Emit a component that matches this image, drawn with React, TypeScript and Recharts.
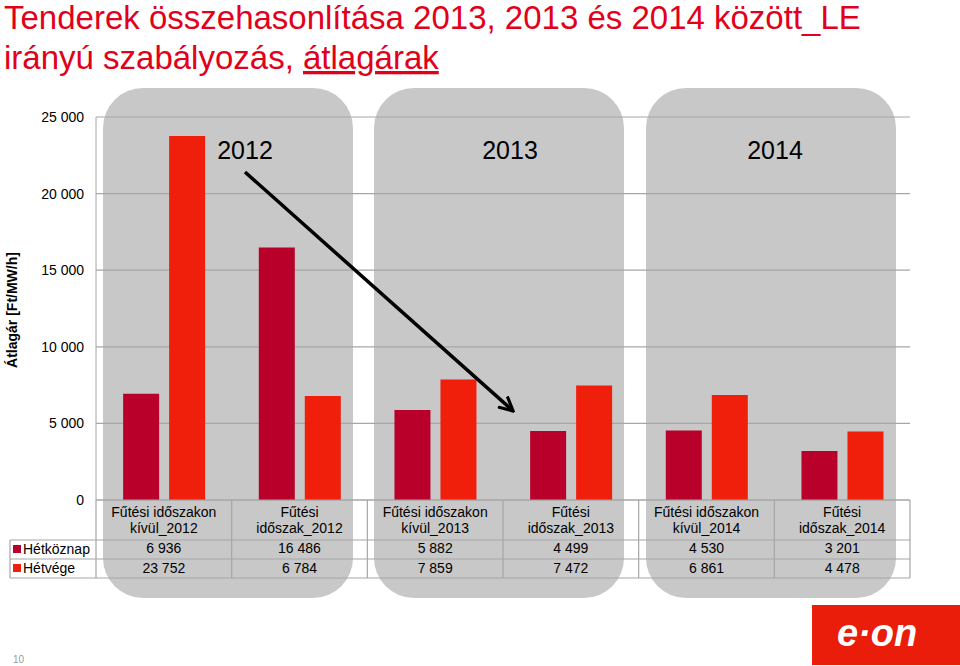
import { Bar, BarChart, CartesianGrid, XAxis, YAxis } from "recharts";

const categories = [
  "Fűtési időszakon kívül_2012",
  "Fűtési időszak_2012",
  "Fűtési időszakon kívül_2013",
  "Fűtési időszak_2013",
  "Fűtési időszakon kívül_2014",
  "Fűtési időszak_2014",
];
const weekday = [6936, 16486, 5882, 4499, 4530, 3201];
const weekend = [23752, 6784, 7859, 7472, 6861, 4478];
const seriesNames = ["Hétköznap", "Hétvége"];
const yTicks = [0, 5000, 10000, 15000, 20000, 25000];
const years = ["2012", "2013", "2014"];

const data = categories.map((name, i) => ({
  name,
  weekday: weekday[i],
  weekend: weekend[i],
}));

const FONT = '"Liberation Sans", Arial, sans-serif';
const DARK = "#b8002b";
const BRIGHT = "#ef1f0c";
const GRID = "#a6a6a6";

// plot box
const LEFT = 96;
const RIGHT = 910;
const TOP = 117;
const BOTTOM = 500;
const BAND = (RIGHT - LEFT) / categories.length;
const ROWS = [540, 559, 578];

const fmt = (v: number) => v.toLocaleString("en-US").replace(/,/g, " ");

function CategoryTick(props: any) {
  const { x, y, payload } = props;
  const label: string = payload.value;
  const cut = label.lastIndexOf(" ");
  const i = payload.index;
  const style = { fontFamily: FONT, fontSize: 14, fill: "#000" };
  return (
    <g>
      <text x={x} y={y + 17} textAnchor="middle" {...style}>
        {label.slice(0, cut)}
      </text>
      <text x={x} y={y + 33} textAnchor="middle" {...style}>
        {label.slice(cut + 1)}
      </text>
      <text x={x} y={y + 53} textAnchor="middle" {...style}>
        {fmt(weekday[i])}
      </text>
      <text x={x} y={y + 73} textAnchor="middle" {...style}>
        {fmt(weekend[i])}
      </text>
    </g>
  );
}

export default function App() {
  return (
    <div style={{ position: "absolute", left: 0, top: 0, width: 960, height: 666, background: "#fff", overflow: "hidden" }}>
      {years.map((yr, g) => (
        <div
          key={yr}
          style={{
            position: "absolute",
            left: LEFT + 2 * g * BAND + 7,
            top: 88,
            width: 250,
            height: 510,
            borderRadius: 40,
            background: "#c8c8c8",
          }}
        />
      ))}
      <div style={{ position: "absolute", left: 0, top: 0 }}>
        <BarChart
          width={960}
          height={666}
          data={data}
          margin={{ top: TOP, right: 960 - RIGHT, bottom: 88, left: LEFT - 60 }}
          barCategoryGap="20%"
          barGap={10}
        >
          <CartesianGrid vertical={false} stroke={GRID} strokeWidth={1.2} />
          <XAxis
            dataKey="name"
            height={78}
            interval={0}
            tickLine={false}
            tickSize={0}
            tickMargin={0}
            axisLine={{ stroke: GRID }}
            tick={<CategoryTick />}
          />
          <YAxis
            width={60}
            domain={[0, 25000]}
            ticks={yTicks}
            tickFormatter={fmt}
            tickLine={false}
            tickSize={0}
            tickMargin={12}
            axisLine={{ stroke: GRID }}
            tick={{ fontFamily: FONT, fontSize: 14, fill: "#000" }}
          />
          <Bar dataKey="weekday" name={seriesNames[0]} fill={DARK} isAnimationActive={false} />
          <Bar dataKey="weekend" name={seriesNames[1]} fill={BRIGHT} isAnimationActive={false} />
        </BarChart>
      </div>
      <svg width={960} height={666} style={{ position: "absolute", left: 0, top: 0, pointerEvents: "none" }}>
        <defs>
          <marker id="head" viewBox="0 0 10 10" refX="8" refY="5" markerWidth="4.5" markerHeight="4.5" orient="auto">
            <path d="M0,0.5 L9,5 L0,9.5" fill="none" stroke="#000" strokeWidth={2} />
          </marker>
        </defs>
        {/* table lines */}
        {ROWS.map((y) => (
          <line key={y} x1={10} x2={RIGHT} y1={y} y2={y} stroke={GRID} strokeWidth={1.2} />
        ))}
        <line x1={10} x2={10} y1={ROWS[0]} y2={ROWS[2]} stroke={GRID} strokeWidth={1.2} />
        {categories.map((c, i) => (
          <line key={c} x1={LEFT + i * BAND} x2={LEFT + i * BAND} y1={BOTTOM} y2={ROWS[2]} stroke={GRID} strokeWidth={1.2} />
        ))}
        <line x1={RIGHT} x2={RIGHT} y1={BOTTOM} y2={ROWS[2]} stroke={GRID} strokeWidth={1.2} />
        {seriesNames.map((s, i) => (
          <g key={s}>
            <rect x={13} y={ROWS[i] + 5} width={8} height={8} fill={i === 0 ? DARK : BRIGHT} />
            <text x={23} y={ROWS[i] + 14} fontFamily={FONT} fontSize={14} fill="#000">
              {s}
            </text>
          </g>
        ))}
        {/* year labels */}
        {years.map((yr, g) => (
          <text key={yr} x={245 + g * 265} y={159} textAnchor="middle" fontFamily={FONT} fontSize={25} fill="#000">
            {yr}
          </text>
        ))}
        {/* arrow */}
        <line x1={245} y1={172} x2={512} y2={410} stroke="#000" strokeWidth={3.5} markerEnd="url(#head)" />
        {/* title */}
        <text x={4} y={29} fontFamily={FONT} fontSize={33} fill="#e2001a">
          Tenderek összehasonlítása 2013, 2013 és 2014 között_LE
        </text>
        <text x={4} y={69} fontFamily={FONT} fontSize={33} fill="#e2001a">
          irányú szabályozás,{" "}
          <tspan textDecoration="underline" style={{ textDecoration: "underline" }}>átlagárak</tspan>
        </text>
        {/* axis title */}
        <text
          transform="translate(17,310) rotate(-90)"
          textAnchor="middle"
          fontFamily={FONT}
          fontSize={14}
          fontWeight="bold"
          fill="#000"
        >
          Átlagár [Ft/MW/h]
        </text>
        {/* footer */}
        <text x={13} y={663} fontFamily={FONT} fontSize={10} fill="#9a9a9a">
          10
        </text>
        <rect x={812} y={605} width={148} height={60} fill="#ea1c0a" />
        <text x={877} y={646} textAnchor="middle" fontFamily={FONT} fontSize={38} fontWeight="bold" fontStyle="italic" fill="#fff">
          e·on
        </text>
      </svg>
    </div>
  );
}
